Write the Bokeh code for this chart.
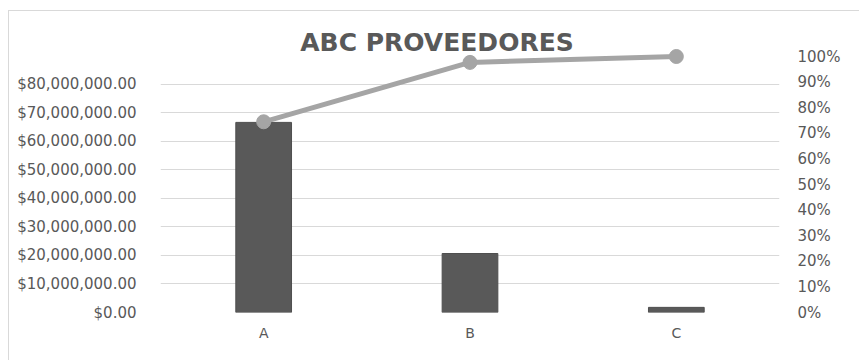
from bokeh.plotting import figure
from bokeh.models import (Range1d, LinearAxis, FixedTicker, NumeralTickFormatter,
                          Label, ColumnDataSource)
from bokeh.embed import file_html
from bokeh.resources import INLINE

categories = ["A", "B", "C"]
amounts = [66700000, 20700000, 1800000]
cumulative_pct = [0.745, 0.977, 1.0]
left_ticks = [0, 10000000, 20000000, 30000000, 40000000, 50000000, 60000000, 70000000, 80000000]
right_ticks = [0, 0.1, 0.2, 0.3, 0.4, 0.5, 0.6, 0.7, 0.8, 0.9, 1.0]
title_text = "ABC PROVEEDORES"

xs = [i + 0.5 for i in range(len(categories))]
src = ColumnDataSource(dict(x=xs, amt=amounts, pct=cumulative_pct, cat=categories))

FONT = "DejaVu Sans"
GREY = "#595959"

p = figure(width=850, height=349, output_backend="svg", toolbar_location=None,
           x_range=Range1d(0, 3), y_range=Range1d(0, 100350000),
           min_border_left=151, min_border_right=80, min_border_top=15, min_border_bottom=48)
p.margin = (11, 0, 0, 9)
p.styles = {"outline": "1px solid #d9d9d9"}
p.outline_line_color = None
p.background_fill_color = "white"
p.border_fill_color = "white"

p.extra_y_ranges = {"pct": Range1d(0, 1.1172)}

p.vbar(x="x", top="amt", width=0.27, source=src, fill_color=GREY, line_color="#4f4f4f")
p.line(x="x", y="pct", source=src, y_range_name="pct", line_color="#a5a5a5", line_width=5)
p.scatter(x="x", y="pct", source=src, y_range_name="pct", size=14,
          fill_color="#a5a5a5", line_color="#a5a5a5")

# x axis
xa = p.xaxis[0]
xa.ticker = FixedTicker(ticks=xs)
xa.major_label_overrides = {x: c for x, c in zip(xs, categories)}
xa.axis_line_color = None
xa.major_tick_line_color = None
xa.minor_tick_line_color = None
xa.major_label_text_font = FONT
xa.major_label_text_font_size = "14px"
xa.major_label_text_color = GREY
xa.major_label_standoff = 6

# left axis
ya = p.yaxis[0]
ya.ticker = FixedTicker(ticks=left_ticks)
ya.formatter = NumeralTickFormatter(format="$0,0.00")
ya.axis_line_color = None
ya.major_tick_line_color = None
ya.minor_tick_line_color = None
ya.major_label_text_font = FONT
ya.major_label_text_font_size = "15px"
ya.major_label_text_color = GREY
ya.major_label_standoff = 18

# right axis
ra = LinearAxis(y_range_name="pct", ticker=FixedTicker(ticks=right_ticks),
                formatter=NumeralTickFormatter(format="0%"))
ra.axis_line_color = None
ra.major_tick_line_color = None
ra.minor_tick_line_color = None
ra.major_label_text_font = FONT
ra.major_label_text_font_size = "15px"
ra.major_label_text_color = GREY
ra.major_label_standoff = 12
p.add_layout(ra, "right")

p.xgrid.grid_line_color = None
p.ygrid.ticker = FixedTicker(ticks=left_ticks)
p.ygrid.grid_line_color = "#d9d9d9"
p.ygrid.grid_line_width = 1

p.add_layout(Label(x=1.34, y=94740000, text=title_text, text_align="center",
                   text_baseline="middle", text_font=FONT, text_font_style="bold",
                   text_font_size="25px", text_color=GREY))

open("out.html", "w").write(file_html(p, INLINE))
